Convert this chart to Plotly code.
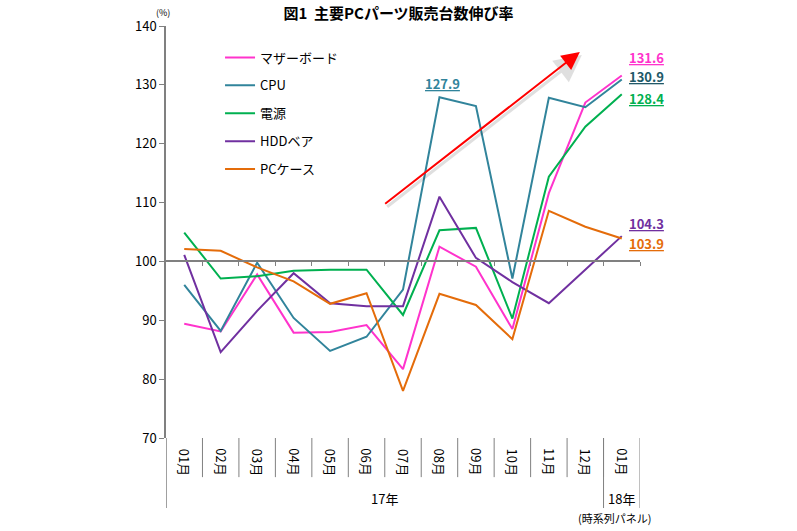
import plotly.graph_objects as go

months = ["01月", "02月", "03月", "04月", "05月", "06月", "07月", "08月", "09月", "10月", "11月", "12月", "01月"]
years = ["17年", "18年"]
series_names = ["マザーボード", "CPU", "電源", "HDDベア", "PCケース"]

mother = [89.4, 88.1, 97.8, 87.9, 88.0, 89.2, 81.7, 102.5, 99.1, 88.5, 111.6, 127.0, 131.6]
cpu = [96.0, 88.2, 99.8, 90.4, 84.8, 87.2, 95.2, 127.9, 126.4, 97.1, 127.8, 126.2, 130.9]
power = [104.9, 97.1, 97.5, 98.4, 98.6, 98.6, 90.9, 105.3, 105.7, 90.3, 114.4, 122.9, 128.4]
hdd = [101.1, 84.6, 91.6, 98.0, 92.9, 92.4, 92.4, 111.0, 100.6, 96.5, 92.9, 98.6, 104.3]
pccase = [102.1, 101.8, 99.0, 96.6, 92.8, 94.6, 78.0, 94.5, 92.6, 86.8, 108.6, 105.9, 103.9]

colors = ["#FF33CC", "#31849B", "#00B050", "#7030A0", "#E46C0A"]
label_colors = ["#FF33CC", "#215968", "#00B050", "#7030A0", "#E46C0A"]
all_series = [mother, cpu, power, hdd, pccase]

FONT = "Noto Sans CJK JP"
x_idx = list(range(len(months)))

fig = go.Figure()
for i, (name, vals) in enumerate(zip(series_names, all_series)):
    fig.add_trace(go.Scatter(
        x=x_idx, y=vals, mode="lines", name=name,
        line=dict(color=colors[i], width=2),
        legendgroup=f"g{i}",
    ))

annotations = []
# red trend arrow (shadow + arrow)
for col, w, xs, ys in [("rgba(0,0,0,0.12)", 3, 2, -3), ("#FF0000", 2, 0, 0)]:
    annotations.append(dict(
        x=10.85, y=135.6, ax=5.47, ay=109.6, xref="x", yref="y", axref="x", ayref="y",
        showarrow=True, arrowhead=2, arrowsize=1.8, arrowwidth=w, arrowcolor=col,
        text="", xshift=xs, yshift=ys,
    ))

# end value labels
end_shifts = [18, 2.6, -4.7, 13, -5.5]
for i, vals in enumerate(all_series):
    annotations.append(dict(
        x=12, y=vals[-1], xref="x", yref="y", text=f"<u><b>{vals[-1]:.1f}</b></u>",
        showarrow=False, xanchor="left", yanchor="middle", xshift=5, yshift=end_shifts[i],
        font=dict(family=FONT, size=13, color=label_colors[i]),
    ))
# CPU peak label
annotations.append(dict(
    x=7, y=cpu[7], xref="x", yref="y", text=f"<u><b>{cpu[7]:.1f}</b></u>",
    showarrow=False, xanchor="center", yanchor="middle", xshift=3, yshift=14,
    font=dict(family=FONT, size=13, color="#31849B"),
))

# month labels (rotated)
for i, m in enumerate(months):
    annotations.append(dict(
        x=i, y=-0.058, xref="x", yref="paper", text=m, textangle=90,
        showarrow=False, xanchor="center", yanchor="middle",
        font=dict(family=FONT, size=13, color="#000000"),
    ))
# year labels
annotations.append(dict(x=5.5, y=-0.146, xref="x", yref="paper", text=years[0], showarrow=False,
                        xanchor="center", yanchor="middle",
                        font=dict(family=FONT, size=13, color="#000000")))
annotations.append(dict(x=12, y=-0.146, xref="x", yref="paper", text=years[1], showarrow=False,
                        xanchor="center", yanchor="middle",
                        font=dict(family=FONT, size=13, color="#000000")))
annotations.append(dict(x=0.947, y=-0.194, xref="paper", yref="paper", text="(時系列パネル)", showarrow=False,
                        xanchor="center", yanchor="middle", font=dict(family=FONT, size=11, color="#000000")))
annotations.append(dict(x=-0.006, y=1.0316, xref="paper", yref="paper", text="(%)", showarrow=False,
                        xanchor="center", yanchor="middle", font=dict(family=FONT, size=9, color="#000000")))

shapes = []
gray = "#808080"
# table separators
for i in range(12):
    shapes.append(dict(type="line", xref="x", yref="paper", x0=i + 0.5, x1=i + 0.5, y0=0, y1=-0.095,
                       line=dict(color=gray, width=1)))
for xv in [11.5, 12.5]:
    shapes.append(dict(type="line", xref="x", yref="paper", x0=xv, x1=xv, y0=0, y1=-0.17,
                       line=dict(color=gray, width=1)))
shapes.append(dict(type="line", xref="x", yref="paper", x0=-0.5, x1=-0.5, y0=0, y1=-0.17,
                   line=dict(color=gray, width=1.5)))

fig.update_layout(
    width=797, height=531,
    margin=dict(l=166, r=157, t=26, b=93),
    paper_bgcolor="white", plot_bgcolor="white",
    title=dict(text="<b>図1  主要PCパーツ販売台数伸び率</b>", x=0.5, xanchor="center", y=0.974, yanchor="middle",
               font=dict(family=FONT, size=15, color="#000000")),
    font=dict(family=FONT, size=13, color="#000000"),
    showlegend=True,
    legend=dict(x=0.114, y=0.96, xanchor="left", yanchor="top", bgcolor="rgba(0,0,0,0)",
                font=dict(family=FONT, size=13, color="#000000"), tracegroupgap=8, itemwidth=30),
    xaxis=dict(range=[-0.5, 12.5], showgrid=False, zeroline=False, showline=True, linecolor=gray, linewidth=1.5,
               anchor="free", position=(100 - 70) / 70, ticks="outside", ticklen=4, tickcolor=gray,
               tickvals=[i + 0.5 for i in range(13)], showticklabels=False),
    yaxis=dict(range=[70, 140], dtick=10, showgrid=False, zeroline=False, showline=True, linecolor=gray,
               linewidth=1.5, ticks="outside", ticklen=5, tickcolor=gray,
               tickfont=dict(family=FONT, size=13, color="#000000")),
    annotations=annotations, shapes=shapes,
)

fig.write_html("out.html", config={"displayModeBar": False},
               post_script="document.body.style.margin='0';")
